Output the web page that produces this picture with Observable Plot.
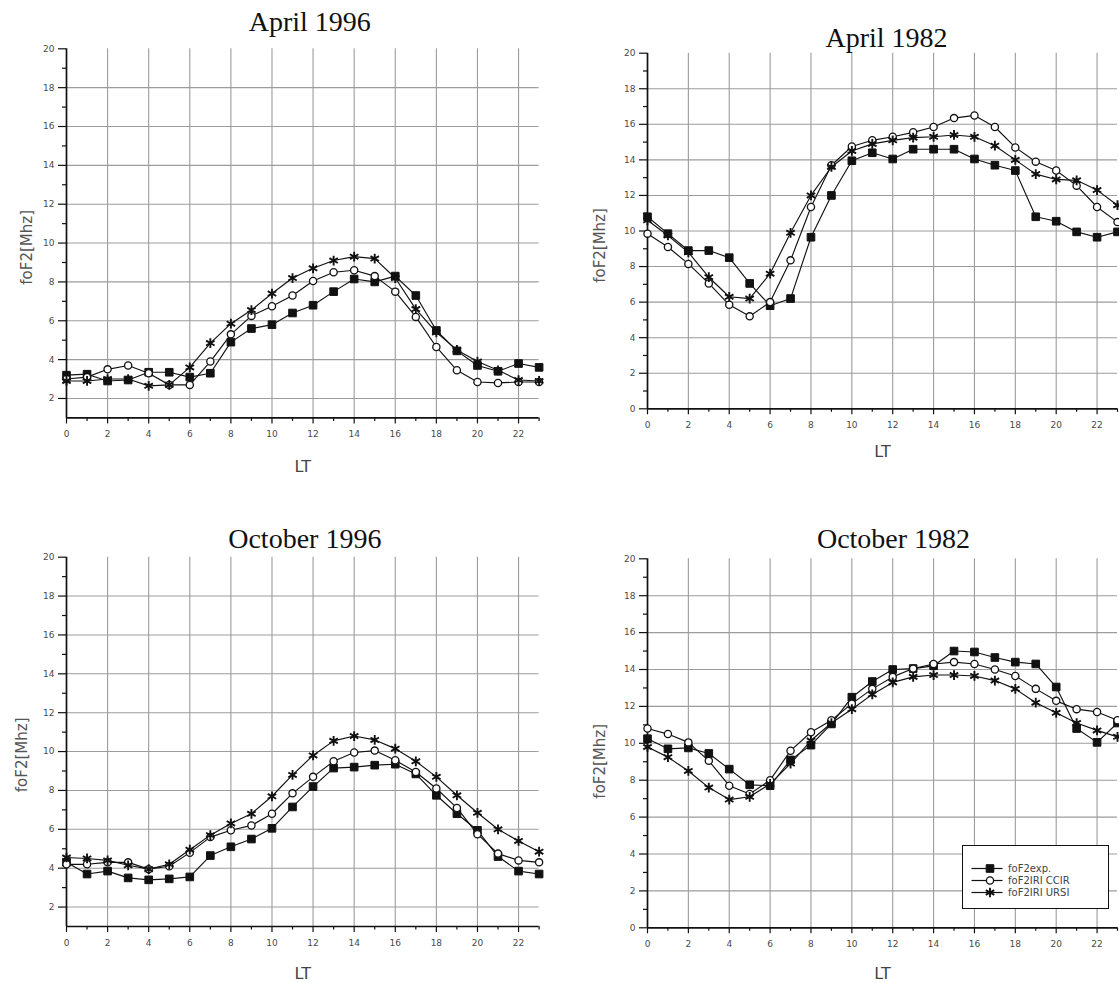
<!DOCTYPE html>
<html>
<head>
<meta charset="utf-8">
<script src="https://cdn.jsdelivr.net/npm/d3@7"></script>
<script src="https://cdn.jsdelivr.net/npm/@observablehq/plot@0.6"></script>
<style>
html,body{margin:0;padding:0;background:#fff;}
#root{position:relative;width:1119px;height:983px;overflow:hidden;background:#fff;}
.pane{position:absolute;}
.pane svg{overflow:visible;}
g[aria-label="ylabel"] text{letter-spacing:1px;}
g[aria-label="title"] text{letter-spacing:0.5px;}
g[aria-label="legendtext"] text{letter-spacing:1.5px;}
#legend{position:absolute;left:962px;top:845px;width:145px;height:62px;border:1.5px solid #111;background:#fff;}
</style>
</head>
<body>
<div id="root"></div>
<script>
// ---- categories / ticks ----
const hours = [0,1,2,3,4,5,6,7,8,9,10,11,12,13,14,15,16,17,18,19,20,21,22,23];
const seriesNames = ["foF2exp.", "foF2IRI CCIR", "foF2IRI URSI"];
const majorXTicks = [0,2,4,6,8,10,12,14,16,18,20,22];
const minorXTicks = [1,3,5,7,9,11,13,15,17,19,21,23];
const xGridTicks = [2,4,6,8,10,12,14,16,18,20,22];
const yTicksFrom1 = [2,4,6,8,10,12,14,16,18,20];
const yTicksFrom0 = [0,2,4,6,8,10,12,14,16,18,20];
const yMinorFrom1 = [3,5,7,9,11,13,15,17,19];
const yMinorFrom0 = [1,3,5,7,9,11,13,15,17,19];
const yGridTicks = [2,4,6,8,10,12,14,16,18];
const titles = ["April 1996", "April 1982", "October 1996", "October 1982"];
const yLabel = "foF2[Mhz]";
const xLabel = "LT";

// ---- series values (foF2, MHz) by hour ----
const apr1996Exp  = [3.2,3.25,2.9,2.95,3.35,3.35,3.1,3.3,4.9,5.6,5.8,6.4,6.8,7.5,8.15,8.0,8.3,7.3,5.5,4.45,3.7,3.4,3.8,3.6];
const apr1996Ccir = [3.0,3.1,3.5,3.7,3.3,2.7,2.7,3.9,5.3,6.25,6.75,7.3,8.05,8.5,8.6,8.3,7.5,6.2,4.65,3.45,2.85,2.8,2.85,2.85];
const apr1996Ursi = [2.9,2.9,3.0,3.0,2.65,2.7,3.6,4.85,5.85,6.55,7.4,8.2,8.7,9.1,9.3,9.2,8.2,6.6,5.4,4.5,3.9,3.45,2.95,2.9];

const apr1982Exp  = [10.8,9.85,8.9,8.9,8.5,7.05,5.8,6.2,9.65,12.0,13.95,14.4,14.05,14.6,14.6,14.6,14.05,13.7,13.4,10.8,10.55,9.95,9.65,9.95];
const apr1982Ccir = [9.85,9.1,8.15,7.05,5.85,5.2,6.0,8.35,11.35,13.7,14.75,15.1,15.3,15.55,15.85,16.35,16.5,15.85,14.7,13.9,13.4,12.55,11.35,10.5];
const apr1982Ursi = [10.6,9.75,8.8,7.4,6.3,6.2,7.6,9.9,12.0,13.6,14.5,14.9,15.1,15.25,15.3,15.4,15.3,14.8,14.0,13.2,12.9,12.85,12.3,11.45];

const oct1996Exp  = [4.3,3.7,3.85,3.5,3.4,3.45,3.55,4.65,5.1,5.5,6.05,7.15,8.2,9.15,9.2,9.3,9.35,8.85,7.75,6.8,5.95,4.6,3.85,3.7];
const oct1996Ccir = [4.2,4.2,4.3,4.3,3.95,4.1,4.8,5.6,5.95,6.2,6.8,7.85,8.7,9.5,9.95,10.05,9.55,8.95,8.1,7.1,5.75,4.75,4.4,4.3];
const oct1996Ursi = [4.55,4.5,4.4,4.15,3.95,4.2,4.95,5.7,6.3,6.8,7.7,8.8,9.8,10.55,10.8,10.6,10.15,9.5,8.7,7.75,6.85,6.0,5.4,4.85];

const oct1982Exp  = [10.25,9.7,9.75,9.45,8.6,7.75,7.7,9.1,9.9,11.05,12.5,13.35,14.0,14.05,14.2,15.0,14.95,14.65,14.4,14.3,13.05,10.8,10.05,11.1];
const oct1982Ccir = [10.8,10.5,10.05,9.05,7.7,7.25,8.0,9.6,10.6,11.25,12.15,12.95,13.6,14.05,14.3,14.4,14.3,14.0,13.65,12.95,12.3,11.85,11.7,11.25];
const oct1982Ursi = [9.8,9.25,8.5,7.6,6.95,7.1,7.8,8.9,10.15,11.1,11.85,12.65,13.3,13.6,13.7,13.7,13.65,13.4,12.95,12.2,11.65,11.1,10.7,10.35];

// ---- styling of the three series ----
const symbols = ["square", "circle", "asterisk"];
const symbolR = [4.3, 3.6, 4.6];
const symbolFill = ["#111", "#fff", "none"];
const symbolSW = [1, 1.3, 1.9];

const INK = "#111", GRID = "#9c9c9c", TICKTXT = "#4a4a4a";

const panels = [
  {title: titles[0], values: [apr1996Exp, apr1996Ccir, apr1996Ursi], ymin: 1, yTicks: yTicksFrom1, yMinor: yMinorFrom1,
   left: 0, top: 0, width: 560, height: 490, ml: 66, mr: 21.4, mt: 48.3, mb: 72.6,
   tdx: 7, tdy: -27, ydx: -39, ydy: 14, xdy: 48.6},
  {title: titles[1], values: [apr1982Exp, apr1982Ccir, apr1982Ursi], ymin: 0, yTicks: yTicksFrom0, yMinor: yMinorFrom0,
   left: 560, top: 0, width: 559, height: 490, ml: 87, mr: 2, mt: 52.7, mb: 81.7,
   tdx: 4, tdy: -15, ydx: -47, ydy: 14.5, xdy: 43},
  {title: titles[2], values: [oct1996Exp, oct1996Ccir, oct1996Ursi], ymin: 1, yTicks: yTicksFrom1, yMinor: yMinorFrom1,
   left: 0, top: 490, width: 560, height: 493, ml: 66, mr: 21.4, mt: 66.7, mb: 57,
   tdx: 2, tdy: -17.7, ydx: -44, ydy: 13, xdy: 47},
  {title: titles[3], values: [oct1982Exp, oct1982Ccir, oct1982Ursi], ymin: 0, yTicks: yTicksFrom0, yMinor: yMinorFrom0,
   left: 560, top: 490, width: 559, height: 493, ml: 87, mr: 2, mt: 68.3, mb: 55.7,
   tdx: 11, tdy: -19.3, ydx: -47, ydy: 18, xdy: 46}
];

function makePanel(p) {
  const marks = [
    Plot.gridX(xGridTicks, {stroke: GRID, strokeOpacity: 1, strokeWidth: 1.1}),
    Plot.gridY(yGridTicks, {stroke: GRID, strokeOpacity: 1, strokeWidth: 1.1}),
    Plot.axisX(minorXTicks, {tickSize: 3.5, tickFormat: () => "", label: null, stroke: INK, strokeWidth: 1.2}),
    Plot.axisX(majorXTicks, {tickSize: 6, tickPadding: 7, label: null, stroke: INK, fill: TICKTXT, strokeWidth: 1.2, fontSize: 9}),
    Plot.axisY(p.yMinor, {tickSize: 4, tickFormat: () => "", label: null, stroke: INK, strokeWidth: 1.2}),
    Plot.axisY(p.yTicks, {tickSize: 8, tickPadding: 4, label: null, stroke: INK, fill: TICKTXT, strokeWidth: 1.2, fontSize: 9}),
    Plot.ruleX([0], {stroke: INK, strokeWidth: 1.7}),
    Plot.ruleY([p.ymin], {stroke: INK, strokeWidth: 1.7})
  ];
  p.values.forEach((vals) => {
    marks.push(Plot.line(vals, {x: (d, j) => hours[j], y: d => d, stroke: INK, strokeWidth: 1.15}));
  });
  p.values.forEach((vals, i) => {
    marks.push(Plot.dot(vals, {x: (d, j) => hours[j], y: d => d, symbol: symbols[i], r: symbolR[i],
      fill: symbolFill[i], stroke: INK, strokeWidth: symbolSW[i]}));
  });
  marks.push(Plot.text([p.title], {frameAnchor: "top", dx: p.tdx, dy: p.tdy, lineAnchor: "middle",
    fontFamily: "Liberation Serif, Times New Roman, serif", fontSize: 28, fill: INK, ariaLabel: "title"}));
  marks.push(Plot.text([yLabel], {frameAnchor: "left", rotate: -90, dx: p.ydx, dy: p.ydy, lineAnchor: "middle",
    textAnchor: "middle", fontSize: 15, fill: "#555", ariaLabel: "ylabel"}));
  marks.push(Plot.text([xLabel], {frameAnchor: "bottom", dy: p.xdy, lineAnchor: "middle",
    fontSize: 16, fill: "#444", ariaLabel: "xlabel"}));
  return Plot.plot({
    width: p.width, height: p.height,
    marginLeft: p.ml, marginRight: p.mr, marginTop: p.mt, marginBottom: p.mb,
    style: {fontFamily: "DejaVu Sans, sans-serif", fontSize: "9px", background: "transparent", overflow: "visible"},
    x: {domain: [0, 23]},
    y: {domain: [p.ymin, 20]},
    marks
  });
}

const root = document.getElementById("root");
panels.forEach(p => {
  const div = document.createElement("div");
  div.className = "pane";
  div.style.left = p.left + "px";
  div.style.top = p.top + "px";
  div.appendChild(makePanel(p));
  root.appendChild(div);
});

// ---- legend (in the October 1982 panel) ----
const legendMarks = [
  Plot.ruleY(seriesNames, {y: d => d, stroke: INK, strokeWidth: 1.2})
];
seriesNames.forEach((name, i) => {
  legendMarks.push(Plot.dot([name], {y: d => d, frameAnchor: "left", dx: 18, symbol: symbols[i], r: symbolR[i],
    fill: symbolFill[i], stroke: INK, strokeWidth: symbolSW[i]}));
});
legendMarks.push(Plot.text(seriesNames, {y: d => d, frameAnchor: "left", dx: 36, textAnchor: "start",
  fontSize: 10, fill: "#444", ariaLabel: "legendtext"}));
const legend = Plot.plot({
  width: 145, height: 62, marginLeft: 8.5, marginRight: 105.5, marginTop: 0, marginBottom: 0,
  style: {fontFamily: "DejaVu Sans, sans-serif", background: "transparent", overflow: "visible"},
  x: {domain: [0, 1], axis: null},
  y: {type: "point", domain: seriesNames, range: [15.5, 51.5], axis: null},
  marks: legendMarks
});
const lg = document.createElement("div");
lg.id = "legend";
lg.appendChild(legend);
root.appendChild(lg);
</script>
</body>
</html>
